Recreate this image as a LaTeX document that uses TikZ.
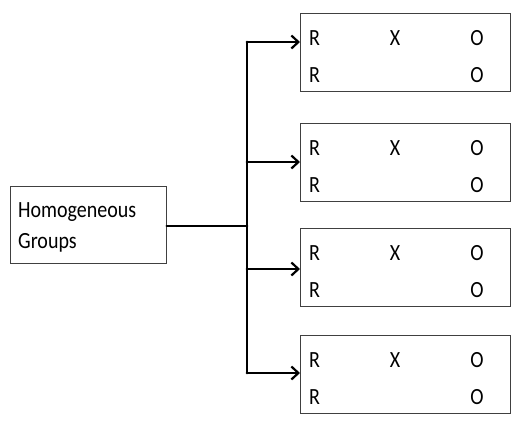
\documentclass[tikz,border=0pt]{standalone}
\usepackage{fontspec}
\setmainfont{Carlito}
\usetikzlibrary{arrows.meta}
\newcommand{\tall}[1]{\scalebox{1}[1.16]{#1}}
\begin{document}
\begin{tikzpicture}[x=1pt,y=-1pt,
  box/.style={draw=black!75,line width=0.8pt,inner sep=0pt},
  txt/.style={font=\fontsize{20}{24}\selectfont,inner sep=0pt,anchor=base},
  conn/.style={line width=2.8pt,line cap=round},
  arr/.style={conn,-{Straight Barb[length=7pt,width=13pt,line width=2.2pt]}}]
\useasboundingbox (0,0) rectangle (523,432);
\node[box,minimum width=156pt,minimum height=77pt,anchor=north west] (hg) at (10,186) {};
\node[txt,anchor=base west] (t1) at (18,217) {\tall{Homogeneous}};
\node[txt,anchor=base west] (t2) at (18,248) {\tall{Groups}};
\foreach \i/\top/\ay in {1/13/42, 2/123/162, 3/228/269, 4/335/373}{
  \node[box,minimum width=210pt,minimum height=78pt,anchor=north west] (b\i) at (300,\top) {};
  \node[txt,anchor=base west] (r\i a) at (309,\top+32) {\tall{R}};
  \node[txt] (x\i) at (395,\top+32) {\tall{X}};
  \node[txt] (o\i a) at (477,\top+32) {\tall{O}};
  \node[txt,anchor=base west] (r\i b) at (309,\top+69) {\tall{R}};
  \node[txt] (o\i b) at (477,\top+69) {\tall{O}};
  \coordinate (a\i) at (300,\ay);
  \coordinate (v\i) at (247,\ay);
}
\coordinate (j) at (247,226);
\draw[conn] (hg.east |- j) -- (j);
\draw[conn] (v1) -- (v4);
\foreach \i in {1,...,4}{\draw[arr] (v\i) -- (a\i);}
\end{tikzpicture}
\end{document}
